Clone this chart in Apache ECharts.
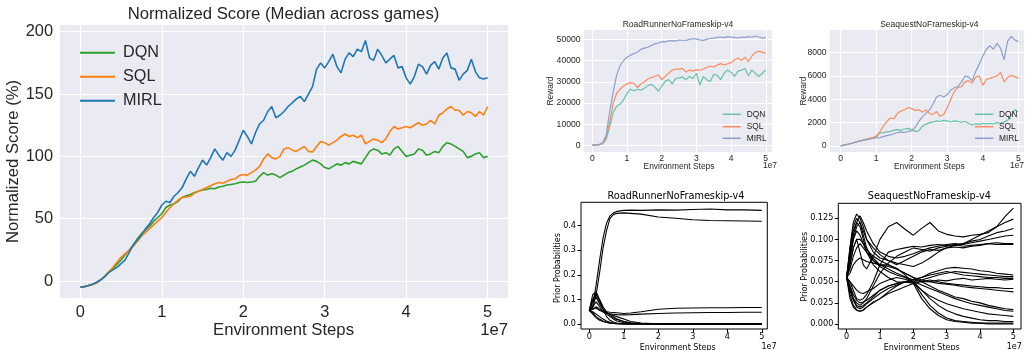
<!DOCTYPE html>
<html>
<head>
<meta charset="utf-8">
<script src="https://cdn.jsdelivr.net/npm/echarts@6/dist/echarts.min.js"></script>
<style>
  html, body { margin: 0; padding: 0; background: #ffffff; }
  #chart { width: 1025px; height: 350px; }
</style>
</head>
<body>
<div id="chart"></div>
<script>
// ---- data (x in units of 1e7 environment steps) ----
const MEDIAN_STEP = 0.05;
const medianDQN = [-5,-4.5,-3.6,-2.6,-1.2,1,4,7,10,13.5,
  17,21,25,29,34,38,41,44,48,51,
  54,59,61,62,64,67,68.5,69.5,71,72,
  73,73.5,74.5,74,75.5,76,77,77.5,78,79,
  79.5,79,79.5,80,84,87,85,86,85,83,
  85,87,88,90,91.5,93,95,97,96,94,
  91,90,92,94,93,95,94,96,95,94,
  99,104,106,105,102,103,101,106,108,104,
  100,101,102,106,105,101,102,104,103,108,
  111,110,108,106,104,99,100,102,103,99,
  100];
const medianSQL = [-5,-4.5,-3.8,-2.8,-1.5,1,4,7.5,11,15,
  19,22,24.5,28,32,36,39,42,45,48,
  51,55,59,62,65,67,67.5,68,70.5,72,
  73.5,75,76.5,78,79,78.5,80,81.5,82,84.5,
  85.5,85,87,89,92,98,102,99,98,100,
  106,107,105,104,106,108,104,103.5,108,112,
  111,109,111,113,116,118,116,117,115,117,
  110,112,114,113,111,114,120,124,122,123,
  124,123,125,127,125,126,129,126,133,135,
  138,140,137,137,133,136,135,132,136,133,
  140];
const medianMIRL = [-5,-4.5,-3.5,-2.5,-1,1,3.5,7,9,11,
  14,17,23,29,33,37,42,46,51,55,
  61,64,63,68,71,75,82,88,84,91,
  97,93,99,106,101,97,103,100,105,113,
  121,116,110,119,126,129,136,140,131,133,
  136,140,143,146,148,144,150,156,170,175,
  171,176,182,172,167,178,183,180,186,184,
  193,179,177,186,181,175,178,181,171,172,
  163,158,164,174,172,166,173,176,170,179,
  183,171,170,161,166,169,178,168,163,162,
  163];

const RUN_STEP = 0.1;
const roadRunnerDQN = [300,400,500,1000,3000,9000,15500,18500,19500,21500,
  24500,26500,25800,26500,26000,27000,28200,28800,27600,25600,
  28000,30200,31000,29000,31500,31800,32200,31000,32500,31500,
  34000,28500,32500,31000,30000,33500,33000,31000,34000,35500,
  34500,32500,35000,35500,36200,32800,35600,34000,32500,34000,
  35600];
const roadRunnerSQL = [300,400,500,1200,4000,11000,20000,24500,26500,28000,
  29000,29600,29200,27300,29000,30000,31300,32000,32500,33200,
  31000,32500,34000,35500,36000,35800,36300,34500,35500,35000,
  35700,35400,36000,36800,37300,37000,37800,38500,37900,38400,
  39000,40300,41200,40000,41600,39500,42100,43700,44300,43900,
  43400];
const roadRunnerMIRL = [300,400,500,1500,5000,16000,25000,33000,37500,40000,
  41500,42500,43300,44000,45200,45800,46200,47000,47800,48200,
  48800,48700,49200,49300,49100,49600,49500,49400,49900,50200,
  50100,49700,49400,49900,50300,50500,50800,51000,50700,51200,
  51000,50800,50500,51000,50800,51200,50900,51500,51000,50500,
  50800];
const seaquestDQN = [0,75,145,225,310,400,470,540,610,680,
  760,1100,1150,1200,1250,1350,1400,1350,1450,1500,
  1400,1250,1300,1700,1850,2000,2050,2150,2100,2200,
  2150,2050,2150,2100,2050,2100,1950,1800,1900,1850,
  1950,1900,1950,1900,2000,1950,2050,2200,2600,3100,
  2950];
const seaquestSQL = [0,80,150,230,320,420,480,560,650,720,
  850,1200,1700,2100,2400,2350,2800,3000,3100,3300,
  3200,3050,3100,2900,3100,2800,2700,2950,2550,2700,
  3300,4000,4700,5000,5100,5500,5600,5400,5900,6000,
  5200,5700,5800,5900,6000,6300,5500,5900,6050,5950,
  5800];
const seaquestMIRL = [0,70,140,220,300,380,450,520,580,640,
  690,720,800,880,950,1050,1150,1200,1150,1250,
  1300,1600,2100,2500,2800,3100,3600,4200,4350,4200,
  4400,4800,5000,5100,5500,6000,5900,5600,6400,7000,
  7700,8300,8600,8300,8800,8400,7400,9000,9400,9100,
  8950];

// prior probability of each action, RoadRunner
const roadRunnerPriorSteps = [0,0.1,0.2,0.3,0.4,0.5,0.6,0.7,0.8,1.0,1.2,1.5,2.0,2.5,3.0,3.5,4.0,4.5,5.0];
const roadRunnerPriors = [
  [0.055,0.075,0.16,0.26,0.35,0.41,0.44,0.452,0.458,0.462,0.463,0.462,0.464,0.463,0.466,0.468,0.464,0.464,0.462],
  [0.055,0.065,0.12,0.21,0.31,0.38,0.43,0.445,0.45,0.452,0.45,0.447,0.435,0.43,0.424,0.421,0.42,0.419,0.418],
  [0.055,0.1,0.125,0.09,0.06,0.05,0.048,0.047,0.046,0.043,0.045,0.05,0.06,0.064,0.065,0.066,0.066,0.067,0.067],
  [0.055,0.06,0.07,0.06,0.05,0.045,0.042,0.04,0.038,0.037,0.038,0.04,0.043,0.045,0.046,0.047,0.047,0.048,0.048],
  [0.055,0.12,0.13,0.1,0.07,0.05,0.035,0.025,0.018,0.01,0.005,0.002,0.001,0,0,0,0,0,0],
  [0.055,0.09,0.11,0.08,0.06,0.045,0.04,0.035,0.03,0.02,0.01,0.004,0.001,0,0,0,0,0,0],
  [0.055,0.05,0.04,0.03,0.02,0.012,0.007,0.004,0.002,0.001,0,0,0,0,0,0,0,0,0],
  [0.055,0.07,0.09,0.07,0.05,0.04,0.03,0.02,0.012,0.006,0.003,0.001,0,0,0,0,0,0,0],
  [0.055,0.045,0.03,0.02,0.012,0.007,0.004,0.002,0.001,0,0,0,0,0,0,0,0,0,0],
  [0.055,0.06,0.065,0.055,0.05,0.045,0.04,0.03,0.02,0.01,0.004,0.001,0,0,0,0,0,0,0],
  [0.055,0.1,0.12,0.095,0.06,0.03,0.015,0.008,0.004,0.002,0.001,0,0,0,0,0,0,0,0],
  [0.055,0.04,0.025,0.015,0.01,0.006,0.003,0.002,0.001,0,0,0,0,0,0,0,0,0,0]
];

// prior probability of each action, Seaquest
const seaquestPriorSteps = [0,0.1,0.2,0.3,0.4,0.5,0.6,0.8,1.0,1.25,1.5,1.75,2.0,2.25,2.5,2.75,3.0,3.25,3.5,3.75,4.0,4.25,4.5,4.75,5.0];
const seaquestPriors = [
  [0.055,0.07,0.09,0.1,0.085,0.07,0.065,0.08,0.1,0.115,0.12,0.112,0.105,0.113,0.12,0.11,0.106,0.104,0.103,0.105,0.106,0.108,0.115,0.127,0.137],
  [0.055,0.09,0.12,0.13,0.125,0.115,0.1,0.085,0.078,0.075,0.072,0.07,0.068,0.072,0.078,0.085,0.09,0.093,0.095,0.1,0.105,0.11,0.115,0.12,0.124],
  [0.055,0.04,0.03,0.025,0.022,0.025,0.03,0.045,0.06,0.072,0.08,0.085,0.09,0.088,0.086,0.09,0.092,0.093,0.095,0.098,0.1,0.104,0.108,0.11,0.113],
  [0.055,0.085,0.11,0.12,0.128,0.12,0.11,0.095,0.085,0.08,0.078,0.08,0.083,0.087,0.09,0.092,0.094,0.095,0.094,0.096,0.098,0.1,0.102,0.104,0.105],
  [0.055,0.05,0.04,0.03,0.028,0.03,0.035,0.05,0.07,0.085,0.088,0.09,0.092,0.091,0.093,0.094,0.093,0.094,0.092,0.093,0.094,0.095,0.096,0.095,0.095],
  [0.055,0.075,0.1,0.115,0.12,0.11,0.1,0.09,0.082,0.075,0.07,0.075,0.08,0.085,0.088,0.087,0.09,0.091,0.09,0.092,0.093,0.095,0.094,0.094,0.094],
  [0.055,0.045,0.03,0.022,0.02,0.022,0.025,0.032,0.04,0.045,0.048,0.05,0.052,0.055,0.06,0.063,0.066,0.067,0.066,0.065,0.063,0.062,0.06,0.059,0.058],
  [0.055,0.08,0.105,0.12,0.115,0.1,0.085,0.07,0.062,0.055,0.05,0.049,0.05,0.052,0.055,0.058,0.06,0.062,0.061,0.06,0.059,0.058,0.057,0.056,0.056],
  [0.055,0.04,0.028,0.02,0.018,0.02,0.024,0.03,0.036,0.042,0.046,0.05,0.053,0.055,0.058,0.06,0.062,0.06,0.058,0.057,0.056,0.055,0.055,0.054,0.054],
  [0.055,0.065,0.08,0.09,0.095,0.09,0.085,0.078,0.07,0.065,0.06,0.056,0.052,0.05,0.05,0.052,0.051,0.053,0.054,0.052,0.053,0.054,0.053,0.052,0.053],
  [0.055,0.035,0.022,0.017,0.015,0.016,0.02,0.026,0.03,0.036,0.04,0.044,0.048,0.05,0.052,0.05,0.048,0.047,0.046,0.045,0.044,0.043,0.043,0.042,0.042],
  [0.055,0.07,0.09,0.1,0.1,0.095,0.088,0.08,0.075,0.07,0.065,0.06,0.055,0.052,0.05,0.048,0.047,0.046,0.044,0.043,0.042,0.041,0.04,0.039,0.038],
  [0.055,0.06,0.07,0.075,0.078,0.076,0.074,0.072,0.07,0.068,0.065,0.06,0.055,0.05,0.045,0.04,0.036,0.032,0.03,0.027,0.025,0.022,0.02,0.018,0.017],
  [0.055,0.045,0.035,0.028,0.025,0.026,0.028,0.034,0.04,0.045,0.048,0.05,0.05,0.046,0.042,0.038,0.034,0.03,0.027,0.024,0.022,0.02,0.018,0.016,0.015],
  [0.055,0.09,0.115,0.125,0.12,0.105,0.09,0.075,0.07,0.07,0.066,0.058,0.048,0.04,0.033,0.028,0.024,0.021,0.018,0.016,0.014,0.012,0.011,0.01,0.009],
  [0.055,0.05,0.045,0.04,0.037,0.036,0.038,0.042,0.048,0.052,0.055,0.053,0.05,0.04,0.03,0.022,0.016,0.012,0.009,0.007,0.005,0.004,0.004,0.003,0.003],
  [0.055,0.08,0.1,0.11,0.105,0.095,0.085,0.075,0.068,0.062,0.058,0.055,0.05,0.035,0.022,0.013,0.007,0.004,0.003,0.002,0.001,0.001,0.001,0.001,0.001],
  [0.055,0.03,0.02,0.016,0.015,0.017,0.02,0.025,0.03,0.038,0.045,0.05,0.048,0.03,0.018,0.01,0.005,0.003,0.002,0.001,0.001,0,0,0,0]
];

// tick positions
const stepTicks = [0, 1, 2, 3, 4, 5];
const medianTicks = [0, 50, 100, 150, 200];
const roadRunnerRewardTicks = [0, 10000, 20000, 30000, 40000, 50000];
const seaquestRewardTicks = [0, 2000, 4000, 6000, 8000];
const roadRunnerPriorTicks = [0, 0.1, 0.2, 0.3, 0.4];
const seaquestPriorTicks = [0, 0.025, 0.05, 0.075, 0.1, 0.125];

// ---- styling ----
const SANS = '"Liberation Sans", Arial, sans-serif';
const DEJAVU = '"DejaVu Sans", sans-serif';
const INK = '#262626';
const TAB = { DQN: '#2ca02c', SQL: '#ff7f0e', MIRL: '#1f77b4' };
const SET2 = { DQN: '#66c2a5', SQL: '#fc8d62', MIRL: '#8da0cb' };

const onStep = (values, step) => values.map((v, i) => [Math.round(i * step * 1000) / 1000, v]);
const onSteps = (values, steps) => values.map((v, i) => [steps[i], v]);
const plain = v => String(v);

function darkAxis(gridIndex, min, max, ticks, fontSize, margin, gridWidth) {
  return {
    type: 'value', gridIndex, min, max,
    axisLine: { show: false, onZero: false },
    axisTick: { show: false, customValues: ticks },
    axisLabel: { customValues: ticks, fontSize, fontFamily: SANS, color: INK, margin, formatter: plain },
    splitLine: { show: true, lineStyle: { color: '#ffffff', width: gridWidth } }
  };
}
function classicAxis(gridIndex, min, max, ticks, digits, margin) {
  return {
    type: 'value', gridIndex, min, max,
    axisLine: { show: false, onZero: false },
    axisTick: { show: true, inside: false, length: 3.5, customValues: ticks, lineStyle: { color: '#000', width: 1 } },
    axisLabel: { customValues: ticks, fontSize: 8.1, fontFamily: DEJAVU, color: '#000', margin,
                 formatter: v => digits === null ? String(v) : v.toFixed(digits) },
    splitLine: { show: false }
  };
}
function lineSeries(name, data, grid, color, width, z) {
  return {
    type: 'line', name, data, xAxisIndex: grid, yAxisIndex: grid,
    showSymbol: false, symbol: 'none', silent: true, z,
    lineStyle: { color, width }, itemStyle: { color }
  };
}
function text(x, y, str, size, family, opts) {
  return Object.assign({
    type: 'text', x, y, silent: true,
    style: { text: str, fontSize: size, fontFamily: family, fill: opts && opts.fill || INK,
             textAlign: opts && opts.align || 'center', textVerticalAlign: 'middle' }
  }, opts && opts.rotate ? { rotation: Math.PI / 2 } : {});
}
function legendBlock(x0, x1, xt, rows) {
  const out = [];
  rows.forEach(([label, color, y]) => {
    out.push({ type: 'line', silent: true, z: 50, shape: { x1: x0, y1: y, x2: x1, y2: y },
               style: { stroke: color, lineWidth: 1.5 } });
    out.push(Object.assign(text(xt, y, label, 8.4, SANS, { align: 'left' }), { z: 50 }));
  });
  return out;
}

const series = [];
// median normalized score
series.push(lineSeries('DQN', onStep(medianDQN, MEDIAN_STEP), 0, TAB.DQN, 1.6, 2));
series.push(lineSeries('SQL', onStep(medianSQL, MEDIAN_STEP), 0, TAB.SQL, 1.6, 3));
series.push(lineSeries('MIRL', onStep(medianMIRL, MEDIAN_STEP), 0, TAB.MIRL, 1.6, 4));
// per-game rewards
series.push(lineSeries('DQN', onStep(roadRunnerDQN, RUN_STEP), 1, SET2.DQN, 1.2, 2));
series.push(lineSeries('SQL', onStep(roadRunnerSQL, RUN_STEP), 1, SET2.SQL, 1.2, 3));
series.push(lineSeries('MIRL', onStep(roadRunnerMIRL, RUN_STEP), 1, SET2.MIRL, 1.2, 4));
series.push(lineSeries('DQN', onStep(seaquestDQN, RUN_STEP), 2, SET2.DQN, 1.2, 2));
series.push(lineSeries('SQL', onStep(seaquestSQL, RUN_STEP), 2, SET2.SQL, 1.2, 3));
series.push(lineSeries('MIRL', onStep(seaquestMIRL, RUN_STEP), 2, SET2.MIRL, 1.2, 4));
// action priors
roadRunnerPriors.forEach((p, i) =>
  series.push(lineSeries('rr-action-' + i, onSteps(p, roadRunnerPriorSteps), 3, '#000000', 1.1, 2)));
seaquestPriors.forEach((p, i) =>
  series.push(lineSeries('sq-action-' + i, onSteps(p, seaquestPriorSteps), 4, '#000000', 1.1, 2)));

const option = {
  animation: false,
  backgroundColor: '#ffffff',
  grid: [
    { left: 60, top: 25, width: 448, height: 273, show: true, backgroundColor: '#EAEAF2', borderWidth: 0 },
    { left: 584, top: 30, width: 188, height: 122, show: true, backgroundColor: '#EAEAF2', borderWidth: 0 },
    { left: 830, top: 30, width: 194, height: 122, show: true, backgroundColor: '#EAEAF2', borderWidth: 0 },
    { left: 581, top: 202.3, width: 186.3, height: 126.7, show: true, backgroundColor: '#ffffff', borderColor: '#000', borderWidth: 1 },
    { left: 838.3, top: 203.3, width: 182.7, height: 125.7, show: true, backgroundColor: '#ffffff', borderColor: '#000', borderWidth: 1 }
  ],
  xAxis: [
    darkAxis(0, -0.25, 5.25, stepTicks, 16.4, 6, 1.2),
    darkAxis(1, -0.24, 5.18, stepTicks, 8.6, 2.5, 1),
    darkAxis(2, -0.30, 5.16, stepTicks, 8.6, 2.5, 1),
    classicAxis(3, -0.24, 5.16, stepTicks, null, 4),
    classicAxis(4, -0.25, 5.23, stepTicks, null, 4)
  ],
  yAxis: [
    darkAxis(0, -13.6, 205.4, medianTicks, 16.4, 7, 1.2),
    darkAxis(1, -2960, 54300, roadRunnerRewardTicks, 8.6, 3.5, 1),
    darkAxis(2, -520, 9950, seaquestRewardTicks, 8.6, 3.5, 1),
    classicAxis(3, -0.0203, 0.495, roadRunnerPriorTicks, 1, 5),
    classicAxis(4, -0.0059, 0.1427, seaquestPriorTicks, 3, 5)
  ],
  legend: {
    left: 75, top: 39.7, orient: 'vertical',
    icon: 'rect', itemWidth: 35, itemHeight: 2, itemGap: 8,
    data: ['DQN', 'SQL', 'MIRL'],
    textStyle: { fontSize: 16.2, fontFamily: SANS, color: INK, lineHeight: 16, height: 16, padding: [0, 0, 0, 3] },
    selectedMode: false
  },
  series,
  graphic: [
    // main panel
    text(283.5, 14, 'Normalized Score (Median across games)', 16.7, SANS),
    text(13.5, 161.5, 'Normalized Score (%)', 16.7, SANS, { rotate: true }),
    text(283.5, 330, 'Environment Steps', 16.7, SANS),
    text(508, 330, '1e7', 16.7, SANS, { align: 'right' }),
    // RoadRunner reward
    text(678, 24.3, 'RoadRunnerNoFrameskip-v4', 8.5, SANS),
    text(550.7, 91, 'Reward', 8.4, SANS, { rotate: true }),
    text(679, 166.7, 'Environment Steps', 8.4, SANS),
    text(777, 165.7, '1e7', 8.4, SANS, { align: 'right' }),
    // Seaquest reward
    text(929.3, 24.3, 'SeaquestNoFrameskip-v4', 8.5, SANS),
    text(803.3, 91, 'Reward', 8.4, SANS, { rotate: true }),
    text(929.3, 166.7, 'Environment Steps', 8.4, SANS),
    text(1010, 165.7, '1e7', 8.4, SANS, { align: 'left' }),
    // RoadRunner priors
    text(676, 196.7, 'RoadRunnerNoFrameskip-v4', 9.7, DEJAVU, { fill: '#000' }),
    text(558.3, 268, 'Prior Probabilities', 8.0, DEJAVU, { rotate: true, fill: '#000' }),
    text(677.7, 347.7, 'Environment Steps', 8.0, DEJAVU, { fill: '#000' }),
    text(769, 346.7, '1e7', 8.0, DEJAVU, { fill: '#000' }),
    // Seaquest priors
    text(929.3, 196.7, 'SeaquestNoFrameskip-v4', 9.7, DEJAVU, { fill: '#000' }),
    text(805, 266.7, 'Prior Probabilities', 8.0, DEJAVU, { rotate: true, fill: '#000' }),
    text(921.7, 347.7, 'Environment Steps', 8.0, DEJAVU, { fill: '#000' }),
    text(1014.3, 346.7, '1e7', 8.0, DEJAVU, { fill: '#000' }),
    // legends of the two reward panels
    ...legendBlock(722.7, 740.7, 746.7, [['DQN', SET2.DQN, 114.3], ['SQL', SET2.SQL, 126.7], ['MIRL', SET2.MIRL, 138.3]]),
    ...legendBlock(975, 993.3, 999, [['DQN', SET2.DQN, 114.3], ['SQL', SET2.SQL, 126.7], ['MIRL', SET2.MIRL, 138.3]])
  ]
};

const chart = echarts.init(document.getElementById('chart'), null, { renderer: 'canvas' });
chart.setOption(option);
</script>
</body>
</html>
